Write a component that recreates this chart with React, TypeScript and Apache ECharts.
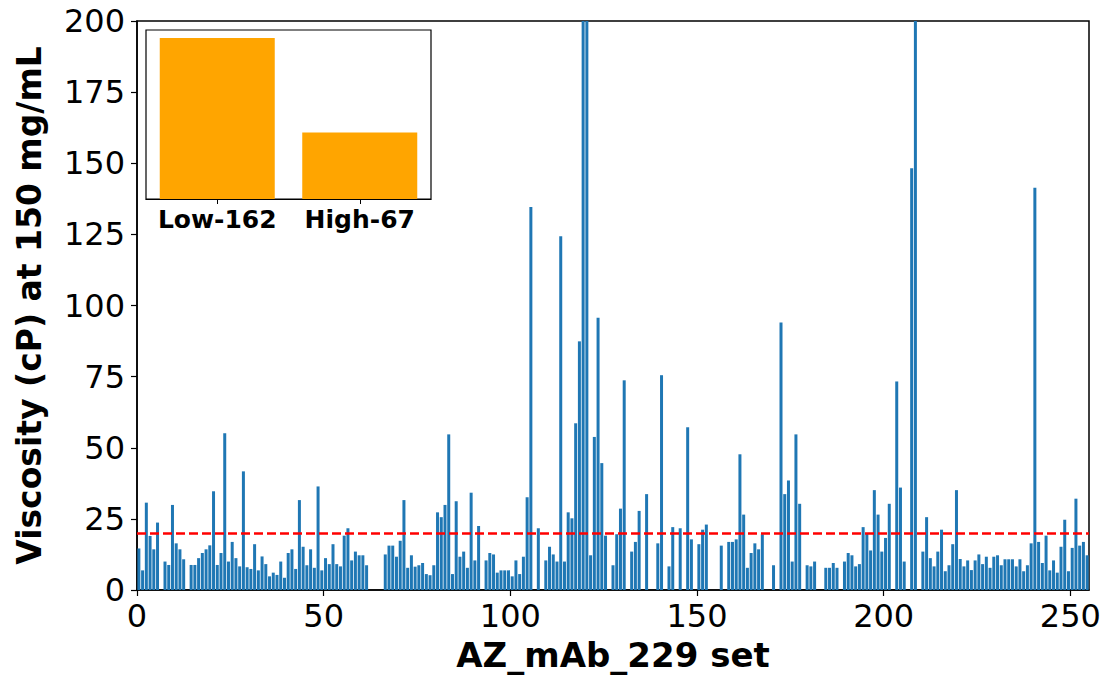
import React, { useEffect, useRef } from "react";
import * as echarts from "echarts";

// Viscosity per antibody slot (cP at 150 mg/mL); 0 marks an empty slot.
const viscosity: number[] = [
  14.6, 6.9, 30.7, 19.0, 14.3, 23.7, 0, 10.0, 8.8, 29.9,
  16.4, 14.3, 10.8, 0, 8.8, 8.8, 11.2, 13.0, 14.3, 15.7,
  34.7, 8.8, 13.0, 55.1, 10.0, 16.9, 11.2, 8.3, 41.7, 8.0,
  7.4, 16.1, 6.9, 11.8, 9.1, 4.8, 6.1, 5.3, 10.0, 4.3,
  13.0, 14.3, 7.4, 31.6, 15.2, 8.7, 14.3, 7.8, 36.4, 6.9,
  11.2, 9.1, 16.1, 9.1, 8.3, 19.1, 21.7, 10.4, 13.5, 12.2,
  12.2, 8.7, 0, 0, 0, 0, 12.5, 15.6, 15.6, 11.7,
  17.3, 31.6, 7.8, 12.2, 8.2, 8.7, 9.5, 5.6, 5.2, 8.7,
  27.3, 25.6, 29.9, 54.7, 5.6, 31.2, 11.7, 13.5, 7.8, 34.2,
  10.4, 22.5, 0, 10.4, 13.0, 12.5, 6.1, 6.9, 6.9, 6.9,
  4.8, 10.4, 5.6, 11.7, 32.6, 134.6, 0, 21.7, 0, 10.4,
  15.2, 12.5, 10.0, 124.3, 10.0, 27.3, 25.2, 58.6, 87.4, 236.0,
  212.0, 12.2, 53.8, 95.7, 44.6, 19.1, 0, 8.7, 19.6, 28.6,
  73.7, 0, 13.5, 16.9, 27.8, 0, 33.7, 0, 0, 16.4,
  75.5, 0, 8.3, 22.1, 0, 21.7, 0, 57.2, 17.8, 0,
  16.1, 21.2, 23.0, 0, 0, 0, 15.6, 0, 16.9, 16.9,
  17.8, 47.7, 26.5, 7.8, 13.0, 16.4, 14.3, 19.6, 0, 0,
  8.7, 0, 94.0, 33.7, 38.5, 10.0, 54.7, 30.3, 0, 8.7,
  8.3, 10.0, 0, 0, 7.8, 7.8, 9.5, 7.8, 0, 10.0,
  13.0, 12.2, 8.3, 9.1, 22.1, 19.9, 13.9, 35.1, 26.5, 13.5,
  18.3, 30.3, 0, 73.3, 36.0, 10.0, 0, 148.2, 262.0, 0,
  13.5, 25.6, 11.2, 8.3, 13.5, 21.2, 6.6, 8.7, 16.1, 35.1,
  10.9, 8.3, 10.4, 7.0, 10.4, 12.5, 9.1, 11.7, 7.8, 11.7,
  12.2, 8.7, 10.8, 10.8, 10.8, 8.3, 10.8, 6.6, 8.7, 16.4,
  141.4, 16.9, 9.5, 19.1, 6.9, 10.4, 6.1, 15.2, 24.7, 6.6,
  14.8, 32.1, 15.6, 16.9, 12.2,
];

const yTicks: number[] = [0, 25, 50, 75, 100, 125, 150, 175, 200];
const xTicks: number[] = [0, 50, 100, 150, 200, 250];
const threshold = 20;

const groupLabels: string[] = ["Low-162", "High-67"];
const groupCounts: number[] = [162, 67];

export default function App() {
  const ref = useRef<HTMLDivElement>(null);

  useEffect(() => {
    if (!ref.current) return;
    const chart = echarts.init(ref.current, null, { renderer: "svg" });

    // one category slot per antibody; slot k is centred on x = k + 0.5
    const slots = viscosity.map((_, k) => String(k));
    const barData = viscosity.map((v) => (v > 0 ? v : null));
    const xMax = viscosity.length;

    const tickFont = { fontFamily: "DejaVu Sans", fontSize: 32, color: "#000" };

    chart.setOption({
      animation: false,
      backgroundColor: "#fff",
      grid: [
        {
          left: 137,
          top: 21,
          width: 952,
          height: 569,
          show: true,
          borderColor: "#000",
          borderWidth: 1.5,
          backgroundColor: "transparent",
        },
        {
          left: 146,
          top: 30,
          width: 285,
          height: 169,
          show: true,
          borderColor: "#000",
          borderWidth: 1.2,
          backgroundColor: "#fff",
          z: 10,
        },
      ],
      xAxis: [
        {
          gridIndex: 0,
          type: "value",
          min: xTicks[0],
          max: xMax,
          interval: 50,
          name: "AZ_mAb_229 set",
          nameLocation: "middle",
          nameGap: 48,
          nameTextStyle: {
            fontFamily: "DejaVu Sans",
            fontSize: 34,
            fontWeight: "bold",
            color: "#000",
          },
          axisLine: { show: true, lineStyle: { color: "#000", width: 1.5 } },
          axisTick: { show: true, inside: false, length: 6, lineStyle: { color: "#000", width: 1.2 } },
          axisLabel: {
            ...tickFont,
            margin: 10,
            showMaxLabel: false,
            formatter: (v: number) => (xTicks.includes(v) ? String(v) : ""),
          },
          splitLine: { show: false },
        },
        {
          gridIndex: 1,
          type: "category",
          data: groupLabels,
          z: 10,
          axisLine: { show: true, lineStyle: { color: "#000", width: 1.2 } },
          axisTick: { show: true, alignWithLabel: true, length: 5, lineStyle: { color: "#000" } },
          axisLabel: {
            interval: 0,
            fontFamily: "DejaVu Sans",
            fontSize: 25,
            fontWeight: "bold",
            color: "#000",
            margin: 8,
          },
        },
        {
          gridIndex: 0,
          type: "category",
          data: slots,
          boundaryGap: true,
          show: false,
        },
      ],
      yAxis: [
        {
          gridIndex: 0,
          type: "value",
          min: yTicks[0],
          max: yTicks[yTicks.length - 1],
          interval: 25,
          name: "Viscosity (cP) at 150 mg/mL",
          nameLocation: "middle",
          nameGap: 91,
          nameTextStyle: {
            fontFamily: "DejaVu Sans",
            fontSize: 33,
            fontWeight: "bold",
            color: "#000",
          },
          axisLine: { show: true, lineStyle: { color: "#000", width: 1.5 } },
          axisTick: { show: true, inside: false, length: 6, lineStyle: { color: "#000", width: 1.2 } },
          axisLabel: { ...tickFont, margin: 12 },
          splitLine: { show: false },
        },
        {
          gridIndex: 1,
          type: "value",
          min: 0,
          max: 170.1,
          show: false,
          splitLine: { show: false },
        },
      ],
      series: [
        {
          type: "bar",
          xAxisIndex: 2,
          yAxisIndex: 0,
          data: barData,
          barWidth: 3,
          clip: true,
          itemStyle: { color: "#1f77b4" },
          markLine: {
            silent: true,
            symbol: "none",
            label: { show: false },
            lineStyle: { color: "#ff0000", type: [9, 4], width: 2.5 },
            data: [{ yAxis: threshold }],
          },
        },
        {
          type: "bar",
          xAxisIndex: 1,
          yAxisIndex: 1,
          data: groupCounts,
          barWidth: 115,
          z: 11,
          itemStyle: { color: "#ffa500" },
        },
      ],
    });

    return () => chart.dispose();
  }, []);

  return (
    <div
      ref={ref}
      style={{ position: "fixed", left: 0, top: 0, width: 1107, height: 678 }}
    />
  );
}
